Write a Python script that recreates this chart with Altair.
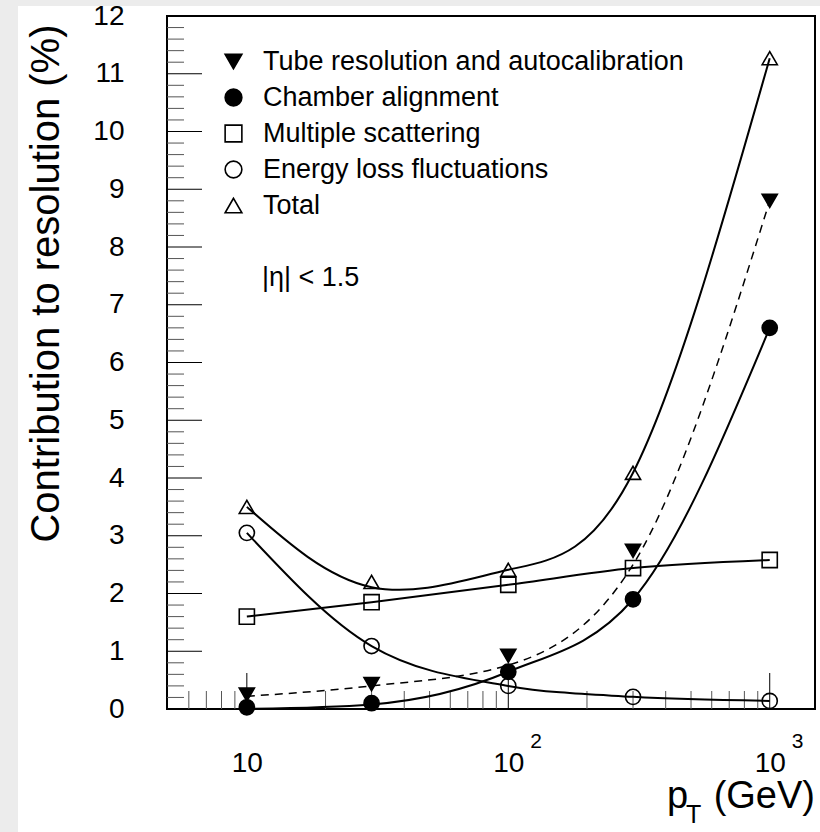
import altair as alt
import pandas as pd

FONT = "Liberation Sans"

# ---- data ----
pt_gev = [10, 30, 100, 300, 1000]
series_names = [
    "Tube resolution and autocalibration",
    "Chamber alignment",
    "Multiple scattering",
    "Energy loss fluctuations",
    "Total",
]
series_shapes = ["triangle-down", "circle", "square", "circle", "triangle-up"]
series_fills = ["black", "black", "transparent", "transparent", "transparent"]
series_strokes = ["black", "black", "black", "black", "black"]

tube_pts = [0.25, 0.43, 0.92, 2.74, 8.80]
chamber_pts = [0.03, 0.10, 0.645, 1.90, 6.60]
multiple_pts = [1.60, 1.85, 2.15, 2.44, 2.58]
energy_pts = [3.05, 1.09, 0.40, 0.21, 0.14]
total_pts = [3.50, 2.20, 2.41, 4.09, 11.27]

# fitted curves, read at the same pT values
tube_curve = [0.22, 0.40, 0.76, 2.50, 8.80]
chamber_curve = [0.0, 0.08, 0.645, 1.90, 6.60]
multiple_curve = [1.60, 1.85, 2.15, 2.44, 2.58]
energy_curve = [3.05, 1.09, 0.40, 0.21, 0.14]
total_curve = [3.50, 2.11, 2.41, 4.09, 11.27]

y_major_ticks = list(range(13))
y_minor_ticks = [round(i * 0.2, 1) for i in range(61) if i % 5 != 0]
x_major_ticks = [10, 100, 1000]
x_minor_ticks = [6, 7, 8, 9, 20, 30, 40, 50, 60, 70, 80, 90,
                 200, 300, 400, 500, 600, 700, 800, 900]
x_label_exponents = ["2", "3"]
x_label_exp_pos = [100, 1000]
eta_label = "|η| < 1.5"

W, H = 648, 693

# ---- tables ----
pts_rows = []
for name, vals in zip(series_names, [tube_pts, chamber_pts, multiple_pts, energy_pts, total_pts]):
    for p, v in zip(pt_gev, vals):
        pts_rows.append({"pt": p, "val": v, "series": name})
df_pts = pd.DataFrame(pts_rows)

def curve_df(name, vals):
    return pd.DataFrame({"pt": pt_gev, "val": vals, "series": name})

df_mono = pd.concat([curve_df(series_names[1], chamber_curve),
                     curve_df(series_names[2], multiple_curve),
                     curve_df(series_names[3], energy_curve)])
df_tube = curve_df(series_names[0], tube_curve)
df_total = curve_df(series_names[4], total_curve)

X = alt.X("pt:Q",
          scale=alt.Scale(type="log", domain=[4.95, 1490], nice=False),
          axis=alt.Axis(values=x_major_ticks, labelExpr="'10'", ticks=False, tickSize=0,
                        domain=False, grid=False, labelFontSize=28, labelFont=FONT,
                        labelColor="black", labelPadding=40, labelFlush=False,
                        labelOverlap=False, title=None))
Y = alt.Y("val:Q",
          scale=alt.Scale(domain=[0, 12], nice=False, zero=False),
          axis=alt.Axis(values=y_major_ticks, ticks=False, tickSize=0, domain=False,
                        grid=False, labelFontSize=28, labelFont=FONT, labelColor="black",
                        labelPadding=43, labelFlush=False, labelOverlap=False,
                        title="Contribution to resolution (%)", titleFontSize=40,
                        titleFont=FONT, titleFontWeight="normal", titleColor="black",
                        titleAngle=270, titleAlign="right", titleBaseline="alphabetic",
                        titleX=-109, titleY=8))

legend_props = dict(title=None, orient="none", legendX=53, legendY=32,
                    labelFontSize=27, labelFont=FONT, labelColor="black",
                    symbolSize=280, symbolStrokeWidth=1.6, symbolStrokeColor="black",
                    rowPadding=8, labelOffset=16, padding=0, symbolOffset=0,
                    labelLimit=0)

dummy = pd.DataFrame({"a": [0]})

bg_left = alt.Chart(dummy).mark_rect(color="#ececec").encode(
    x=alt.value(-167), x2=alt.value(-149), y=alt.value(-16), y2=alt.value(H + 123))
bg_top = alt.Chart(dummy).mark_rect(color="#ececec").encode(
    x=alt.value(-149), x2=alt.value(W + 5), y=alt.value(-16), y2=alt.value(-10))

ytick_major = alt.Chart(pd.DataFrame({"val": y_major_ticks})).mark_rule(
    color="black", strokeWidth=1).encode(y=Y, x=alt.value(0), x2=alt.value(35))
ytick_minor = alt.Chart(pd.DataFrame({"val": y_minor_ticks})).mark_rule(
    color="#555555", strokeWidth=1).encode(y=Y, x=alt.value(0), x2=alt.value(17))
xtick_major = alt.Chart(pd.DataFrame({"pt": x_major_ticks})).mark_rule(
    color="black", strokeWidth=1).encode(x=X, y=alt.value(H), y2=alt.value(H - 36))
xtick_minor = alt.Chart(pd.DataFrame({"pt": x_minor_ticks})).mark_rule(
    color="#555555", strokeWidth=1).encode(x=X, y=alt.value(H), y2=alt.value(H - 18))

lines_mono = alt.Chart(df_mono).mark_line(
    color="black", strokeWidth=2, interpolate="monotone").encode(
    x=X, y=Y, detail="series:N")
line_total = alt.Chart(df_total).mark_line(
    color="black", strokeWidth=2, interpolate="natural").encode(x=X, y=Y)
line_tube = alt.Chart(df_tube).mark_line(
    color="black", strokeWidth=1.5, strokeDash=[8, 6], interpolate="monotone").encode(x=X, y=Y)

points = alt.Chart(df_pts).mark_point(
    size=230, strokeWidth=1.6, opacity=1).encode(
    x=X, y=Y,
    shape=alt.Shape("series:N", scale=alt.Scale(domain=series_names, range=series_shapes),
                    legend=alt.Legend(**legend_props)),
    fill=alt.Fill("series:N", scale=alt.Scale(domain=series_names, range=series_fills),
                  legend=alt.Legend(**legend_props)),
    stroke=alt.Stroke("series:N", scale=alt.Scale(domain=series_names, range=series_strokes),
                      legend=alt.Legend(**legend_props)),
)

eta_text = alt.Chart(pd.DataFrame({"t": [eta_label]})).mark_text(
    align="left", baseline="middle", fontSize=27, font=FONT, color="black").encode(
    text="t:N", x=alt.value(95), y=alt.value(262))

exp_text = alt.Chart(pd.DataFrame({"pt": x_label_exp_pos, "t": x_label_exponents})).mark_text(
    align="left", baseline="alphabetic", dx=22, fontSize=21, font=FONT, color="black").encode(
    x=X, y=alt.value(H + 39), text="t:N")

xt_p = alt.Chart(pd.DataFrame({"t": ["p"]})).mark_text(
    align="left", baseline="alphabetic", fontSize=38, font=FONT, color="black").encode(
    text="t:N", x=alt.value(500), y=alt.value(H + 99))
xt_T = alt.Chart(pd.DataFrame({"t": ["T"]})).mark_text(
    align="left", baseline="alphabetic", fontSize=25, font=FONT, color="black").encode(
    text="t:N", x=alt.value(519), y=alt.value(H + 114))
xt_gev = alt.Chart(pd.DataFrame({"t": ["(GeV)"]})).mark_text(
    align="right", baseline="alphabetic", fontSize=38, font=FONT, color="black").encode(
    text="t:N", x=alt.value(W), y=alt.value(H + 99))

chart = alt.layer(
    bg_left, bg_top, ytick_minor, ytick_major, xtick_minor, xtick_major,
    lines_mono, line_total, line_tube, points, eta_text, exp_text, xt_p, xt_T, xt_gev
).properties(
    width=W, height=H,
    autosize=alt.AutoSizeParams(type="none"),
    padding={"left": 167, "top": 16, "right": 5, "bottom": 123},
    background="white",
).configure(
    font=FONT,
    view=alt.ViewConfig(stroke="black", strokeWidth=2),
)

chart.save("out.html", embed_options={"renderer": "svg", "actions": False})
